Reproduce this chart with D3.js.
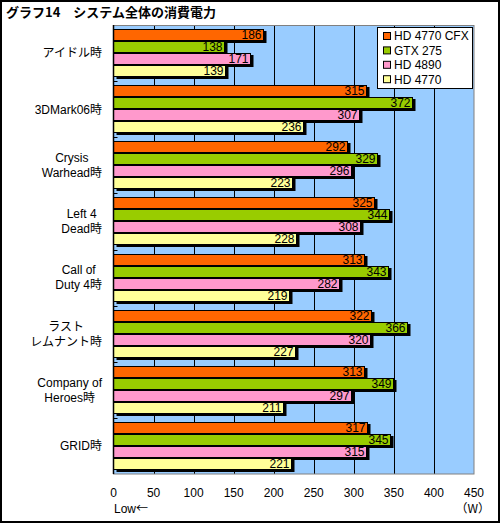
<!DOCTYPE html>
<html><head><meta charset="utf-8">
<script src="https://cdn.jsdelivr.net/npm/d3@7"></script>
<style>
body{margin:0;padding:0;background:#fff;}
svg{display:block;}
text{font-family:"Liberation Sans","Noto Sans CJK JP",sans-serif;font-size:12px;fill:#000;}
</style></head>
<body>
<svg id="chart" width="500" height="523"></svg>
<script>
const categories = [["アイドル時"],["3DMark06時"],["Crysis","Warhead時"],["Left 4","Dead時"],["Call of","Duty 4時"],["ラスト","レムナント時"],["Company of","Heroes時"],["GRID時"]];
const seriesNames = ["HD 4770 CFX","GTX 275","HD 4890","HD 4770"];
const seriesColors = ["#FF6600","#99CC00","#FF99CC","#FFFF99"];
const cfx4770 = [186,315,292,325,313,322,313,317];
const gtx275 = [138,372,329,344,343,366,349,345];
const hd4890 = [171,307,296,308,282,320,297,315];
const hd4770 = [139,236,223,228,219,227,211,221];
const seriesValues = [cfx4770,gtx275,hd4890,hd4770];
const xTicks = [0,50,100,150,200,250,300,350,400,450];
const title = "グラフ14　システム全体の消費電力";

const svg = d3.select("#chart");
const W=500,H=523;
const L=113.5,R=474,T=25,B=474;

svg.append("rect").attr("x",1).attr("y",1).attr("width",W-2).attr("height",H-2)
  .attr("fill","#fff").attr("stroke","#000").attr("stroke-width",2);

svg.append("text").attr("x",6).attr("y",17).attr("font-weight","bold")
  .style("font-size","13px").style("font-family","'Noto Sans CJK JP',sans-serif").text(title);

const x = d3.scaleLinear().domain([0,450]).range([L,R]);
const idx = d3.range(categories.length);
const y0 = d3.scaleBand().domain(idx).range([T,B]).padding(0);
const y1 = d3.scaleBand().domain(d3.range(seriesNames.length)).range([4,52]).padding(0);

// plot background
svg.append("rect").attr("x",L).attr("y",T).attr("width",R-L).attr("height",B-T).attr("fill","#99CCFF");

// gridlines
svg.append("g").selectAll("line").data(xTicks.slice(1,-1)).join("line")
  .attr("x1",d=>Math.round(x(d))+0.5).attr("x2",d=>Math.round(x(d))+0.5)
  .attr("y1",T).attr("y2",B).attr("stroke","#000").attr("stroke-width",1);

// bars
const groups = svg.append("g").selectAll("g").data(idx).join("g")
  .attr("transform",i=>`translate(0,${Math.round(y0(i))})`);
groups.each(function(i){
  const g=d3.select(this);
  seriesValues.forEach((vals,s)=>{
    const yy = y1(s), h = y1.bandwidth()-1, xe = Math.round(x(vals[i]))+0.5;
    g.append("rect").attr("x",L+3).attr("y",yy+2).attr("width",xe-L).attr("height",h+1).attr("fill","#000");
    g.append("rect").attr("x",L).attr("y",yy+0.5).attr("width",xe-L).attr("height",h)
      .attr("fill",seriesColors[s]).attr("stroke","#000").attr("stroke-width",1);
    g.append("text").attr("x",xe-2).attr("y",yy+6).attr("dy","0.36em")
      .attr("text-anchor","end").text(vals[i]);
  });
});

// plot border
svg.append("rect").attr("x",L).attr("y",T+0.5).attr("width",R-L).attr("height",B-T-0.5)
  .attr("fill","none").attr("stroke","#808080").attr("stroke-width",1);
svg.append("line").attr("x1",L).attr("x2",L).attr("y1",T).attr("y2",B).attr("stroke","#000").attr("stroke-width",1.5);
// left ticks at group boundaries
svg.append("g").selectAll("line").data(d3.range(1,categories.length)).join("line")
  .attr("x1",L).attr("x2",L+4).attr("y1",i=>Math.round(y0(i))+0.5).attr("y2",i=>Math.round(y0(i))+0.5)
  .attr("stroke","#000");

// category labels
const cl = svg.append("g");
idx.forEach(i=>{
  const lines=categories[i];
  const cy = y0(i)+y0.bandwidth()/2;
  const tg = cl.append("g");
  const ts = lines.map((ln,k)=>tg.append("text").attr("y",cy+(k-(lines.length-1)/2)*15).attr("dy","0.36em")
    .attr("text-anchor","middle").text(ln));
  const mw = d3.max(ts,t=>t.node().getComputedTextLength());
  ts.forEach(t=>t.attr("x",102-mw/2));
});

// x tick labels
svg.append("g").selectAll("text").data(xTicks).join("text")
  .attr("x",d=>x(d)).attr("y",493).attr("dy","0.36em").attr("text-anchor","middle").text(d=>d);
svg.append("text").attr("x",114).attr("y",509).attr("dy","0.36em").text("Low")
  .append("tspan").style("font-family","'Noto Sans CJK JP',sans-serif").text("←");
svg.append("text").attr("x",490).attr("y",509).attr("dy","0.36em").attr("text-anchor","end")
  .style("font-family","'Noto Sans CJK JP',sans-serif").text("（W）");

// legend
const lg = svg.append("g");
lg.append("rect").attr("x",377.5).attr("y",27.5).attr("width",95).attr("height",61)
  .attr("fill","#fff").attr("stroke","#000");
seriesNames.forEach((n,s)=>{
  const yy = 36+s*14.4;
  lg.append("rect").attr("x",383.5).attr("y",yy-3.5).attr("width",7).attr("height",7)
    .attr("fill",seriesColors[s]).attr("stroke","#000");
  lg.append("text").attr("x",394).attr("y",yy).attr("dy","0.36em").text(n);
});
</script>
</body></html>
